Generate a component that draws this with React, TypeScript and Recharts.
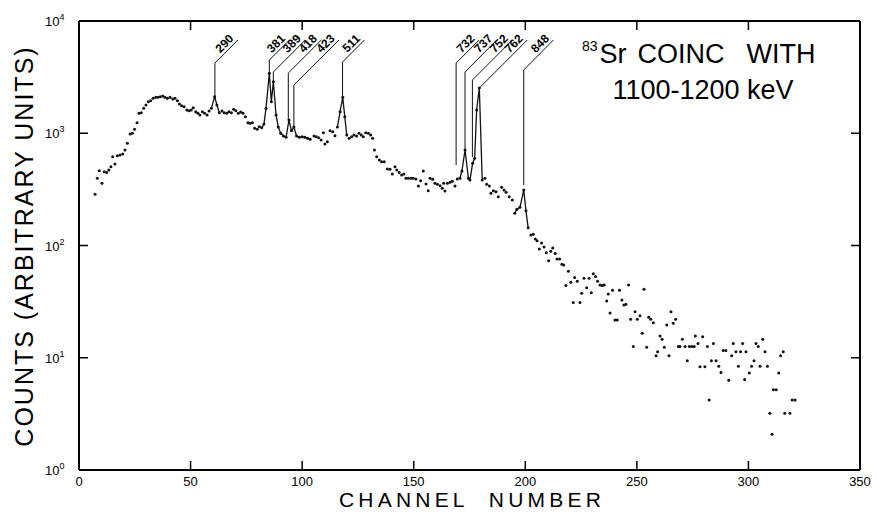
import React from 'react';
import { ComposedChart, Scatter, Line, XAxis, YAxis } from 'recharts';

// Channel number of each measured point
const channels = [
  7.2, 8.2, 9.1, 10.3, 11.3, 12.4, 13.4, 14.3, 15.1, 16.1, 17.2, 18.4, 19.6, 20.6, 21.7, 22.9, 23.9, 24.9, 26.0, 26.9,
  27.9, 29.0, 30.0, 31.1, 32.1, 33.2, 34.4, 35.4, 36.4, 37.5, 38.5, 39.6, 40.8, 42.0, 43.0, 44.1, 45.0, 46.0, 47.1, 48.3,
  49.3, 50.3, 51.2, 52.3, 53.3, 54.2, 55.3, 56.3, 57.4, 58.3, 59.3, 60.8, 61.8, 62.9, 64.1, 65.1, 66.2, 67.2, 68.3, 69.3,
  70.3, 71.4, 72.5, 73.5, 74.6, 75.7, 76.6, 77.7, 78.7, 79.9, 80.8, 81.9, 82.9, 83.8, 85.3, 86.2, 87.1, 88.3, 89.3, 90.4,
  91.6, 92.8, 94.1, 95.2, 96.3, 97.5, 98.7, 100.0, 101.2, 102.4, 103.6, 105.3, 106.3, 107.4, 108.5, 109.5, 110.2, 111.3, 112.5, 113.7,
  114.7, 115.8, 117.0, 118.2, 119.1, 120.0, 121.1, 122.2, 123.2, 124.4, 125.5, 126.5, 127.4, 128.5, 129.7, 130.7, 131.6, 132.4, 133.4, 134.6,
  135.6, 136.8, 138.2, 139.4, 140.4, 141.6, 142.4, 143.5, 144.6, 145.6, 146.5, 147.6, 148.8, 149.8, 151.0, 152.1, 153.1, 154.3, 155.5, 156.5,
  157.3, 158.5, 159.5, 160.6, 161.8, 162.8, 163.4, 164.0, 165.1, 166.3, 167.3, 168.5, 169.5, 170.7, 171.6, 173.0, 174.5, 175.2, 176.4, 177.3,
  178.2, 179.4, 180.7, 181.9, 182.7, 183.9, 184.6, 185.7, 186.9, 187.9, 189.4, 190.5, 191.4, 192.8, 194.2, 195.3, 196.2, 197.6, 199.3, 200.3,
  201.3, 202.5, 203.6, 204.5, 205.3, 206.3, 207.3, 208.4, 209.4, 210.5, 211.4, 212.3, 213.4, 214.2, 215.4, 216.4, 217.2, 218.2, 219.3, 220.4,
  221.5, 222.1, 223.3, 224.5, 225.3, 226.3, 227.5, 228.6, 229.6, 230.5, 231.5, 232.4, 233.5, 234.5, 235.4, 236.5, 237.2, 238.0, 239.1, 240.2,
  241.2, 242.2, 243.3, 244.2, 245.1, 246.3, 247.2, 248.4, 249.2, 250.2, 251.4, 252.4, 253.2, 254.4, 255.3, 256.2, 257.4, 258.6, 259.3, 260.4,
  261.3, 262.3, 263.4, 264.4, 265.3, 266.3, 267.4, 268.6, 269.3, 270.4, 271.6, 272.6, 273.5, 274.6, 275.7, 276.2, 277.4, 278.3, 279.5, 280.5,
  281.6, 282.4, 283.4, 284.3, 285.5, 286.7, 287.7, 288.7, 289.9, 291.2, 292.5, 293.2, 294.4, 295.5, 296.5, 297.4, 298.3, 298.9, 300.4, 301.4,
  302.5, 303.4, 304.4, 305.2, 306.4, 307.4, 308.5, 309.6, 310.6, 311.2, 312.5, 313.6, 314.4, 315.6, 316.3, 318.6, 319.6, 320.9,
];

// Counts (arbitrary units) for each channel above
const counts = [
  286, 397, 464, 358, 455, 446, 471, 504, 618, 532, 631, 640, 653, 709, 813, 985, 1000, 1084, 1242, 1507,
  1519, 1667, 1786, 1910, 1950, 2047, 2090, 2090, 2118, 2148, 2090, 2047, 2090, 2018, 2047, 1950, 1820, 1759, 1722, 1610,
  1588, 1610, 1690, 1556, 1507, 1455, 1556, 1507, 1455, 1578, 1667, 2118, 1786, 1525, 1578, 1525, 1507, 1556, 1525, 1634,
  1588, 1507, 1543, 1507, 1406, 1242, 1225, 1242, 1107, 1084, 1143, 1122, 1208, 1667, 3420, 1910, 2879, 1455, 1137, 1000,
  946, 921, 1313, 1050, 1137, 946, 921, 931, 921, 901, 883, 946, 931, 912, 871, 1011, 802, 841, 1054, 1032,
  951, 1137, 1556, 2090, 1406, 964, 901, 931, 964, 946, 1000, 964, 931, 1011, 1000, 964, 901, 709, 618, 578,
  558, 558, 481, 478, 434, 504, 471, 446, 425, 434, 397, 397, 397, 397, 391, 339, 378, 461, 353, 308,
  397, 389, 358, 351, 341, 323, 358, 306, 358, 366, 373, 339, 391, 397, 461, 709, 397, 383, 540, 598,
  1610, 2530, 383, 397, 351, 339, 292, 308, 301, 272, 330, 312, 298, 272, 254, 194, 210, 219, 312, 204,
  144, 124, 126, 114, 110, 93, 105, 97, 86, 73, 89, 95, 85, 76, 76, 68, 67, 44, 59, 47,
  31, 52, 48, 31, 37.5, 51, 42, 51, 38, 56, 53, 48, 44.5, 44, 44.5, 32, 37, 25, 40, 21.7,
  21.7, 40, 32.7, 29.5, 30, 44.5, 22, 12.6, 25.7, 22, 23.7, 16.5, 40.7, 12.4, 22.9, 22, 20.5, 10.4, 11.3, 15.6,
  14.6, 12.4, 19.6, 10.4, 25.7, 20.3, 22, 12.6, 12.6, 14.6, 12.6, 9.4, 12.6, 12.6, 12.6, 15.6, 13.4, 8.3, 15.4, 8.3,
  12.6, 4.2, 9.4, 13.4, 9.4, 8.4, 7.4, 11.6, 11.6, 6.3, 10.4, 13.4, 11.3, 8.4, 11.3, 13.4, 6.4, 11.3, 7.3, 8.4,
  9.4, 13.4, 12.6, 8.4, 14.6, 11.3, 8.4, 3.2, 2.08, 5.2, 5.2, 7.3, 10.4, 11.3, 3.2, 3.2, 4.2, 4.2,
];

// Channel ranges where the points are joined by a line (peak regions)
const joinedRanges: [number, number][] = [
  [59, 63.5],
  [81.5, 104],
  [115.5, 120.5],
  [170.5, 181.5],
  [194.5, 201.8],
];

// Peak markers: energy label (keV), channel, count where the marker starts,
// count at the bend, channel where the slanted leader ends
const peakLabels = ['290', '381', '389', '418', '423', '511', '732', '737', '752', '762', '848'];
const peakChannels = [60.9, 85.3, 87.1, 93.8, 96.3, 118.1, 169.0, 173.0, 176.3, 179.4, 199.3];
const peakBase = [2118, 3420, 2879, 1313, 1137, 2090, 521, 709, 614, 2530, 346];
const peakKnee = [4225, 4494, 3513, 3441, 2690, 4312, 4225, 3513, 2982, 2530, 3660];
const peakEndChannel = [71.2, 94.3, 101.4, 108.6, 116.5, 127.9, 179.3, 187.2, 194.2, 200.9, 212.6];
const leaderTop = 6770;

const xTicks = [0, 50, 100, 150, 200, 250, 300, 350];
const yTicks = [1, 10, 100, 1000, 10000];
const yExponents = ['0', '1', '2', '3', '4'];

const FONT = '"Liberation Sans", Arial, sans-serif';

const points = channels.map((c, i) => ({ x: c, y: counts[i] }));
const segments = joinedRanges.map(([a, b]) => points.filter((p) => p.x >= a && p.x <= b));
const markers = peakLabels.map((label, i) => ({
  label,
  data: [
    { x: peakChannels[i], y: peakBase[i] },
    { x: peakChannels[i], y: peakKnee[i] },
    { x: peakEndChannel[i], y: leaderTop },
  ],
}));

const BottomTick = (props: any) => {
  const { x, y, payload } = props;
  const inner = payload.value !== 0 && payload.value !== 350;
  return (
    <g>
      {inner && <line x1={x} x2={x} y1={y} y2={y - 9} stroke="#000" strokeWidth={1.5} />}
      <text x={x} y={y + 16} textAnchor="middle" fontSize={13} fontFamily={FONT} fill="#000">
        {payload.value}
      </text>
    </g>
  );
};

const TopTick = (props: any) => {
  const { x, y, payload } = props;
  if (payload.value === 0 || payload.value === 350) return <g />;
  return <line x1={x} x2={x} y1={y} y2={y + 9} stroke="#000" strokeWidth={1.5} />;
};

const LeftTick = (props: any) => {
  const { x, y, payload, index } = props;
  const exp = yExponents[yTicks.indexOf(payload.value)] ?? String(index);
  const inner = payload.value !== 1 && payload.value !== 10000;
  return (
    <g>
      {inner && <line x1={x} x2={x + 9} y1={y} y2={y} stroke="#000" strokeWidth={1.5} />}
      <text x={x - 34} y={y + 5} textAnchor="start" fontSize={13} fontFamily={FONT} fill="#000">
        10
        <tspan dy={-6} fontSize={9}>
          {exp}
        </tspan>
      </text>
    </g>
  );
};

const RightTick = (props: any) => {
  const { x, y, payload } = props;
  if (payload.value === 1 || payload.value === 10000) return <g />;
  return <line x1={x} x2={x - 9} y1={y} y2={y} stroke="#000" strokeWidth={1.5} />;
};

const makeLeaderLabel = (label: string) => (props: any) => {
  const { x, y, index } = props;
  if (index !== 2) return <g />;
  return (
    <text
      transform={`translate(${x},${y}) rotate(-45)`}
      x={-2}
      y={-3}
      textAnchor="end"
      fontSize={12}
      fontWeight="bold"
      fontFamily={FONT}
      fill="#000"
    >
      {label}
    </text>
  );
};

export default function App() {
  return (
    <div style={{ position: 'absolute', left: 0, top: 0, width: 877, height: 516, background: '#fff' }}>
      <ComposedChart
        width={877}
        height={516}
        margin={{ top: 20, right: 16, bottom: 45, left: 78 }}
        data={points}
      >
        <XAxis
          xAxisId="bottom"
          dataKey="x"
          type="number"
          domain={[0, 350]}
          ticks={xTicks}
          allowDataOverflow
          height={1}
          tickSize={0}
          tickMargin={0}
          tickLine={false}
          tick={<BottomTick />}
          axisLine={{ stroke: '#000', strokeWidth: 2 }}
          interval={0}
        />
        <XAxis
          xAxisId="top"
          orientation="top"
          dataKey="x"
          type="number"
          domain={[0, 350]}
          ticks={xTicks}
          allowDataOverflow
          height={1}
          tickSize={0}
          tickMargin={0}
          tickLine={false}
          tick={<TopTick />}
          axisLine={{ stroke: '#000', strokeWidth: 2 }}
          interval={0}
        />
        <YAxis
          yAxisId="left"
          dataKey="y"
          scale="log"
          type="number"
          domain={[1, 10000]}
          ticks={yTicks}
          allowDataOverflow
          width={1}
          tickSize={0}
          tickMargin={0}
          tickLine={false}
          tick={<LeftTick />}
          axisLine={{ stroke: '#000', strokeWidth: 2 }}
          interval={0}
        />
        <YAxis
          yAxisId="right"
          orientation="right"
          dataKey="y"
          scale="log"
          type="number"
          domain={[1, 10000]}
          ticks={yTicks}
          allowDataOverflow
          width={1}
          tickSize={0}
          tickMargin={0}
          tickLine={false}
          tick={<RightTick />}
          axisLine={{ stroke: '#000', strokeWidth: 2 }}
          interval={0}
        />
        {segments.map((seg, i) => (
          <Line
            key={`seg-${i}`}
            xAxisId="bottom"
            yAxisId="left"
            data={seg}
            dataKey="y"
            type="linear"
            stroke="#111"
            strokeWidth={1.3}
            dot={false}
            activeDot={false}
            isAnimationActive={false}
          />
        ))}
        {markers.map((m, i) => (
          <Line
            key={`mk-${i}`}
            xAxisId="bottom"
            yAxisId="left"
            data={m.data}
            dataKey="y"
            type="linear"
            stroke="#111"
            strokeWidth={1}
            dot={false}
            activeDot={false}
            label={makeLeaderLabel(m.label)}
            isAnimationActive={false}
          />
        ))}
        <Scatter
          xAxisId="bottom"
          yAxisId="left"
          data={points}
          dataKey="y"
          fill="#111"
          isAnimationActive={false}
          shape={(p: any) => <circle cx={p.cx} cy={p.cy} r={1.5} fill="#111" />}
        />
      </ComposedChart>
      <svg
        width={877}
        height={516}
        style={{ position: 'absolute', left: 0, top: 0, pointerEvents: 'none' }}
        fontFamily={FONT}
      >
        <text
          transform="translate(33,246) rotate(-90)"
          textAnchor="middle"
          fontSize={25}
          letterSpacing={2}
          fill="#000"
        >
          COUNTS (ARBITRARY UNITS)
        </text>
        <text x={472} y={507} textAnchor="middle" fontSize={21} letterSpacing={4.2} fill="#000">
          CHANNEL{'\u00A0\u00A0'}NUMBER
        </text>
        <text x={582} y={63} fontSize={27} fill="#000">
          <tspan fontSize={14} dy={-12}>83</tspan>
          <tspan dy={12} dx={2}>Sr</tspan>
          <tspan dx={11}>COINC</tspan>
          <tspan dx={22}>WITH</tspan>
        </text>
        <text x={703} y={99} textAnchor="middle" fontSize={27} fill="#000">
          1100-1200 keV
        </text>
      </svg>
    </div>
  );
}
